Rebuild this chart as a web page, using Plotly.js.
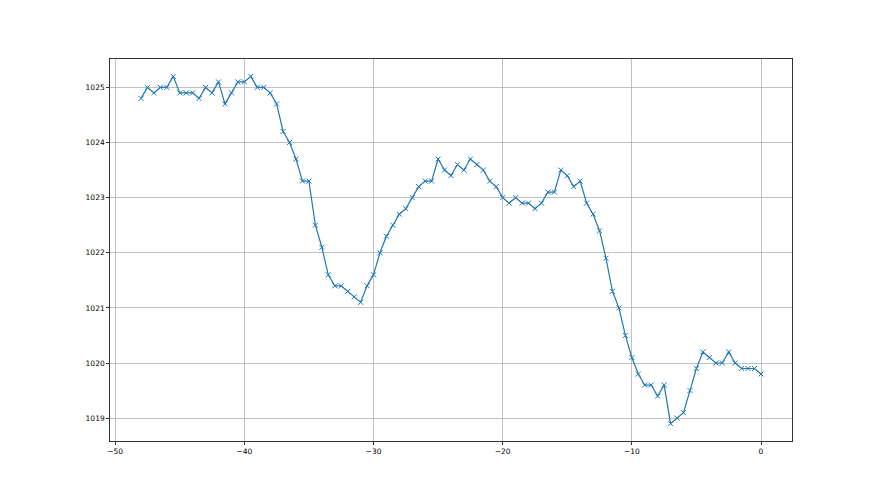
<!DOCTYPE html>
<html>
<head>
<meta charset="utf-8">
<script src="https://cdn.plot.ly/plotly-3.0.1.min.js"></script>
<style>html,body{margin:0;padding:0;background:#fff;}#chart{width:880px;height:495px;}</style>
</head>
<body>
<div id="chart"></div>
<script>
// Hours relative to now (step 0.5 h) and pressure readings (hPa)
const hours = [];
for (let i = 0; i < 97; i++) hours.push(-48 + i * 0.5);
const pressure = [
  1024.8, 1025.0, 1024.9, 1025.0, 1025.0, 1025.2, 1024.9, 1024.9, 1024.9, 1024.8,
  1025.0, 1024.9, 1025.1, 1024.7, 1024.9, 1025.1, 1025.1, 1025.2, 1025.0, 1025.0,
  1024.9, 1024.7, 1024.2, 1024.0, 1023.7, 1023.3, 1023.3, 1022.5, 1022.1, 1021.6,
  1021.4, 1021.4, 1021.3, 1021.2, 1021.1, 1021.4, 1021.6, 1022.0, 1022.3, 1022.5,
  1022.7, 1022.8, 1023.0, 1023.2, 1023.3, 1023.3, 1023.7, 1023.5, 1023.4, 1023.6,
  1023.5, 1023.7, 1023.6, 1023.5, 1023.3, 1023.2, 1023.0, 1022.9, 1023.0, 1022.9,
  1022.9, 1022.8, 1022.9, 1023.1, 1023.1, 1023.5, 1023.4, 1023.2, 1023.3, 1022.9,
  1022.7, 1022.4, 1021.9, 1021.3, 1021.0, 1020.5, 1020.1, 1019.8, 1019.6, 1019.6,
  1019.4, 1019.6, 1018.9, 1019.0, 1019.1, 1019.5, 1019.9, 1020.2, 1020.1, 1020.0,
  1020.0, 1020.2, 1020.0, 1019.9, 1019.9, 1019.9, 1019.8
];
const xTicks = [-50, -40, -30, -20, -10, 0];
const yTicks = [1019, 1020, 1021, 1022, 1023, 1024, 1025];

const trace = {
  x: hours, y: pressure, type: 'scatter', mode: 'lines+markers',
  line: {color: '#1f77b4', width: 1.2},
  marker: {symbol: 'x-thin-open', size: 5, color: '#1f77b4', line: {color: '#1f77b4', width: 1}},
  hoverinfo: 'skip'
};

const axisCommon = {
  showgrid: true, gridcolor: '#b0b0b0', gridwidth: 0.8,
  showline: true, linecolor: '#000', linewidth: 0.8, mirror: true,
  ticks: 'outside', ticklen: 3, tickwidth: 0.8, tickcolor: '#000',
  zeroline: false,
  tickfont: {family: 'DejaVu Sans', size: 7.5, color: '#000'}
};

const layout = {
  width: 880, height: 495,
  margin: {l: 110, r: 88, t: 59, b: 54, pad: 0},
  paper_bgcolor: '#fff', plot_bgcolor: '#fff',
  showlegend: false,
  xaxis: Object.assign({}, axisCommon, {
    range: [-50.4, 2.4], tickmode: 'array', tickvals: xTicks,
    ticktext: xTicks.map(v => v < 0 ? '\u2212' + Math.abs(v) : String(v))
  }),
  yaxis: Object.assign({}, axisCommon, {
    range: [1018.585, 1025.515], tickmode: 'array', tickvals: yTicks,
    ticktext: yTicks.map(String)
  })
};

Plotly.newPlot('chart', [trace], layout, {staticPlot: true, displayModeBar: false});
</script>
</body>
</html>
